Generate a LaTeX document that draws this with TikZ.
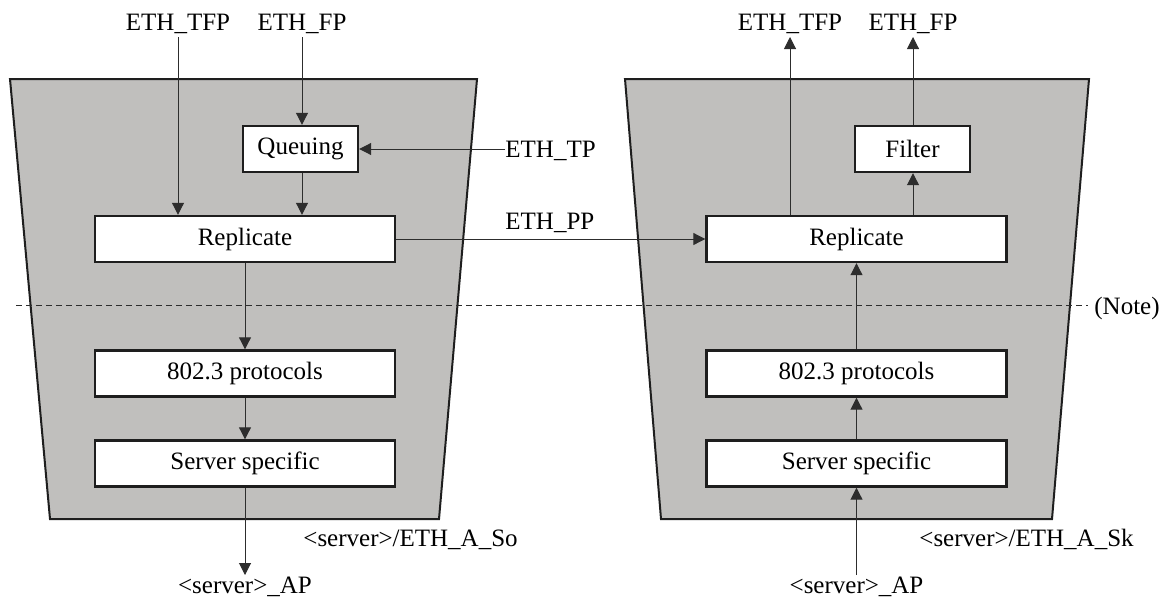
\documentclass[tikz,border=0pt]{standalone}
\usepackage{fontspec}
\setmainfont{Liberation Serif}
\usetikzlibrary{arrows.meta}
\definecolor{trapgray}{RGB}{192,191,189}
\definecolor{ink}{RGB}{30,30,30}
\definecolor{wire}{RGB}{45,45,45}
\begin{document}
\begin{tikzpicture}[x=0.5pt,y=-0.5pt,
  font=\fontsize{12.5}{15}\selectfont,
  blk/.style={draw=ink, line width=1.2pt, fill=white, minimum width=150pt, minimum height=23pt, inner sep=0pt},
  sblk/.style={blk, minimum width=57.5pt},
  lab/.style={inner sep=0pt},
  arr/.style={draw=wire, line width=0.5pt, -{Triangle[length=6pt,width=6pt]}},
  trap/.style={fill=trapgray, draw=ink, line width=1pt, line join=miter},
  sep/.style={draw=wire, line width=0.5pt, dash pattern=on 3pt off 2pt}]
\useasboundingbox (0,0) rectangle (1165,600);
% shaded function blocks
\path[trap] (10,79) -- (477,79) -- (439,519) -- (50,519) -- cycle;
\path[trap] (625,79) -- (1089,79) -- (1052,519) -- (661,519) -- cycle;
% separator line
\coordinate (sepA) at (16,305);
\coordinate (sepB) at (1088,305);
\path[sep] (sepA) -- (sepB);
% boxes
\node[sblk] (queueL) at (300.5,149) {Queuing};
\node[blk] (repL) at (245,239) {Replicate};
\node[blk] (protoL) at (245,373.5) {802.3 protocols};
\node[blk] (servL) at (245,463.5) {Server specific};
\node[sblk] (filterR) at (912.5,149) {Filter};
\node[blk] (repR) at (856.5,239) {Replicate};
\node[blk] (protoR) at (856.5,373.5) {802.3 protocols};
\node[blk] (servR) at (856.5,463.5) {Server specific};
% labels
\node[lab, anchor=base] (tfpL) at (178,30) {ETH\_TFP};
\node[lab, anchor=base] (fpL) at (302,30) {ETH\_FP};
\node[lab, anchor=base west] (tpL) at (505,157) {ETH\_TP};
\node[lab, anchor=base west] (ppL) at (505,229) {ETH\_PP};
\node[lab, anchor=base] (apL) at (245,593) {\textless server\textgreater\_AP};
\node[lab, anchor=base west] (soL) at (303,546) {\textless server\textgreater/ETH\_A\_So};
\node[lab, anchor=base] (tfpR) at (790,30) {ETH\_TFP};
\node[lab, anchor=base] (fpR) at (913,30) {ETH\_FP};
\node[lab, anchor=base] (apR) at (856.5,593) {\textless server\textgreater\_AP};
\node[lab, anchor=base west] (skR) at (919,546) {\textless server\textgreater/ETH\_A\_Sk};
\node[lab, anchor=base west] (note) at (1094,314) {(Note)};
% left connectors
\draw[arr] ([yshift=-3.5pt]tfpL.base) -- (tfpL.base |- repL.north);
\draw[arr] ([yshift=-3.5pt]fpL.base) -- (fpL.base |- queueL.north);
\draw[arr] (queueL.south -| fpL.base) -- (fpL.base |- repL.north);
\draw[arr] ([yshift=4pt]tpL.base west) -- ([yshift=4pt]tpL.base west -| queueL.east);
\draw[arr] (repL.east) -- (repR.west);
\draw[arr] (repL.south) -- (protoL.north);
\draw[arr] (protoL.south) -- (servL.north);
\draw[arr] (servL.south) -- ([yshift=9pt]apL.base);
% right connectors
\draw[arr] (repR.north -| tfpR.base) -- ([yshift=-3.5pt]tfpR.base);
\draw[arr] (filterR.north -| fpR.base) -- ([yshift=-3.5pt]fpR.base);
\draw[arr] (repR.north -| fpR.base) -- (filterR.south -| fpR.base);
\draw[arr] (protoR.north) -- (repR.south);
\draw[arr] (servR.north) -- (protoR.south);
\draw[arr] ([yshift=9pt]apR.base) -- (servR.south);
\end{tikzpicture}
\end{document}
